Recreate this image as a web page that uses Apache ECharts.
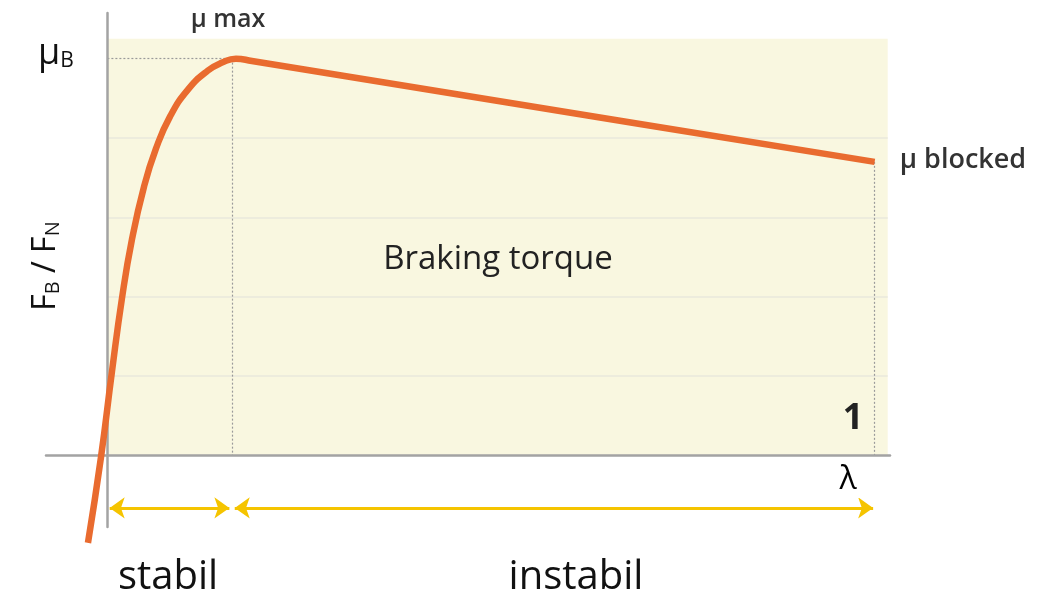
<!DOCTYPE html>
<html>
<head>
<meta charset="utf-8">
<script src="https://cdn.jsdelivr.net/npm/echarts@6/dist/echarts.min.js"></script>
<style>html,body{margin:0;padding:0;background:#fff}#c{width:1052px;height:600px}</style>
</head>
<body>
<div id="c"></div>
<script>
// slip ratio (lambda) and friction coefficient (F_B/F_N, relative to mu_B = 1)
const lambda = [-0.0253, -0.0083, 0.0060, 0.0190, 0.0321, 0.0477, 0.0633, 0.0816, 0.1050, 0.1311, 0.1494, 0.1676, 0.1884, 0.3813, 0.6941, 1.0];
const mu     = [-0.220, -0.0035, 0.212, 0.396, 0.545, 0.677, 0.773, 0.854, 0.922, 0.970, 0.990, 1.0, 0.994, 0.9335, 0.8355, 0.740];
const peakLambda = 0.163, peakMu = 1.0;
const blockedLambda = 1.0, blockedMu = 0.740;
const gridLevels = [0.2, 0.4, 0.6, 0.8];
const areaTop = 1.05, areaRight = 1.017;
const arrowLevel = -0.132;

const curve = lambda.map((l, i) => [l, mu[i]]);

const chart = echarts.init(document.getElementById('c'));
chart.setOption({
  animation: false,
  grid: { left: 46, top: 13, width: 844, height: 514 },
  xAxis: {
    type: 'value', min: -0.08, max: 1.02, z: 5,
    axisLine: { show: true, onZero: true, lineStyle: { color: '#a3a3a3', width: 2.5 } },
    axisTick: { show: false }, axisLabel: { show: false }, splitLine: { show: false }
  },
  yAxis: {
    type: 'value', min: -0.18, max: 1.115, z: 5,
    axisLine: { show: true, onZero: true, lineStyle: { color: '#a3a3a3', width: 2.5 } },
    axisTick: { show: false }, axisLabel: { show: false }, splitLine: { show: false }
  },
  series: [
    {
      type: 'line', data: [], z: 1, silent: true,
      markArea: {
        silent: true,
        itemStyle: { color: '#f9f7e0' },
        data: [[{ coord: [0, 0] }, { coord: [areaRight, areaTop] }]]
      },
      markLine: {
        silent: true, symbol: 'none', label: { show: false },
        lineStyle: { color: '#e9e8dc', width: 1.5, type: 'solid' },
        data: gridLevels.map(v => [{ coord: [0, v] }, { coord: [areaRight, v] }])
      }
    },
    {
      type: 'line', data: [], z: 3, silent: true,
      markLine: {
        silent: true, symbol: 'none', label: { show: false },
        lineStyle: { color: '#9a9a9a', width: 1.2, type: [2, 2] },
        data: [
          [{ coord: [0, peakMu] }, { coord: [peakLambda, peakMu] }],
          [{ coord: [peakLambda, peakMu] }, { coord: [peakLambda, 0] }],
          [{ coord: [blockedLambda, blockedMu] }, { coord: [blockedLambda, 0] }]
        ]
      }
    },
    {
      type: 'line', data: [], z: 3, silent: true,
      markLine: {
        silent: true, symbol: ['arrow', 'arrow'], symbolSize: [16, 15], label: { show: false },
        lineStyle: { color: '#f5c400', width: 3, type: 'solid' },
        data: [
          [{ coord: [0.003, arrowLevel] }, { coord: [0.159, arrowLevel] }],
          [{ coord: [0.166, arrowLevel] }, { coord: [0.998, arrowLevel] }]
        ]
      }
    },
    {
      type: 'line', data: curve, z: 10, smooth: 0.5, showSymbol: false, clip: false,
      lineStyle: { color: '#e96b2f', width: 6.5 }
    }
  ],
  graphic: [
    { type: 'text', x: 228, y: 20, z: 20, style: { text: 'μ max', font: '600 25px "Open Sans"', fill: '#333', align: 'center', verticalAlign: 'middle' } },
    { type: 'text', left: 38, top: 36, z: 20, style: {
        text: '{m|μ}{s|B}', rich: {
          m: { font: '36px "Open Sans"', fill: '#111' },
          s: { font: '21px "Open Sans"', fill: '#111', verticalAlign: 'bottom', padding: [14, 0, 0, 0] }
        } } },
    { type: 'text', x: 46, y: 266, rotation: Math.PI / 2, z: 20, style: {
        text: '{m|F}{s|B}{m| / F}{s|N}', align: 'center', verticalAlign: 'middle', rich: {
          m: { font: '32px "Open Sans"', fill: '#111' },
          s: { font: '20px "Open Sans"', fill: '#111', padding: [14, 0, 0, 0] }
        } } },
    { type: 'text', x: 963, y: 160, z: 20, style: { text: 'μ blocked', font: '600 27px "Open Sans"', fill: '#333', align: 'center', verticalAlign: 'middle' } },
    { type: 'text', x: 498, y: 260, z: 20, style: { text: 'Braking torque', font: '500 33px "Open Sans"', fill: '#222', align: 'center', verticalAlign: 'middle' } },
    { type: 'text', x: 853, y: 419, z: 20, style: { text: '1', font: 'bold 36px "Open Sans"', fill: '#222', align: 'center', verticalAlign: 'middle' } },
    { type: 'text', x: 848, y: 480, z: 20, style: { text: 'λ', font: '32px "Open Sans"', fill: '#000', align: 'center', verticalAlign: 'middle', backgroundColor: '#fff', padding: [2, 3, 2, 3] } },
    { type: 'text', x: 168, y: 578, z: 20, style: { text: 'stabil', font: '40px "Open Sans"', fill: '#111', align: 'center', verticalAlign: 'middle' } },
    { type: 'text', x: 576, y: 578, z: 20, style: { text: 'instabil', font: '40px "Open Sans"', fill: '#111', align: 'center', verticalAlign: 'middle' } }
  ]
});
</script>
</body>
</html>
